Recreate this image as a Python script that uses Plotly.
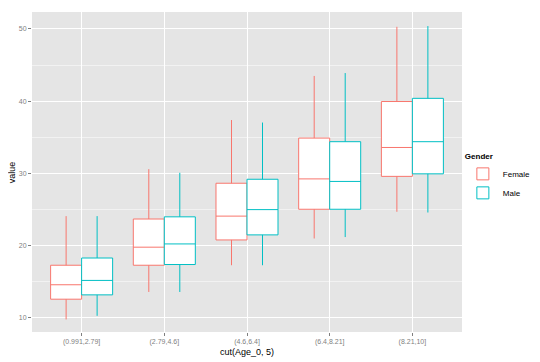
import plotly.graph_objects as go

categories = ["(0.991,2.79]", "(2.79,4.6]", "(4.6,6.4]", "(6.4,8.21]", "(8.21,10]"]

female_low = [9.8, 13.6, 17.3, 21.0, 24.7]
female_q1 = [12.6, 17.3, 20.8, 25.05, 29.6]
female_med = [14.6, 19.8, 24.1, 29.25, 33.6]
female_q3 = [17.3, 23.7, 28.65, 34.9, 39.96]
female_high = [24.1, 30.6, 37.4, 43.5, 50.3]

male_low = [10.3, 13.6, 17.3, 21.2, 24.6]
male_q1 = [13.2, 17.4, 21.5, 25.05, 29.95]
male_med = [15.2, 20.25, 25.0, 28.9, 34.4]
male_q3 = [18.3, 24.0, 29.2, 34.4, 40.4]
male_high = [24.1, 30.1, 37.05, 43.9, 50.4]

font = "Liberation Sans, Arial, sans-serif"

fig = go.Figure()
for name, color, lo, q1, med, q3, hi in [
    ("Female", "#F8766D", female_low, female_q1, female_med, female_q3, female_high),
    ("Male", "#00BFC4", male_low, male_q1, male_med, male_q3, male_high),
]:
    fig.add_trace(go.Box(
        name=name, x=categories, lowerfence=lo, q1=q1, median=med, q3=q3, upperfence=hi,
        line=dict(color=color, width=1), fillcolor="white", whiskerwidth=0,
        offsetgroup=name, boxpoints=False, hoverinfo="skip",
    ))

# page body has an 8px margin, so the figure is sized to fill the rest of the window
fig.update_layout(
    width=532, height=354,
    margin=dict(l=24, r=76, t=4, b=30),
    paper_bgcolor="white", plot_bgcolor="#E5E5E5",
    boxmode="group", boxgap=0.25, boxgroupgap=0,
    font=dict(family=font, size=8, color="black"),
    showlegend=True,
    legend=dict(
        title=dict(text="<b>Gender</b>", font=dict(size=8)),
        x=1.002, xanchor="left", y=0.572, yanchor="top",
        font=dict(size=8), bgcolor="rgba(0,0,0,0)",
        tracegroupgap=0,
    ),
    xaxis=dict(
        automargin=False,
        range=[-0.6, len(categories) - 0.4],
        showgrid=True, gridcolor="white", gridwidth=1.2,
        ticks="outside", ticklen=3, tickcolor="#7F7F7F",
        tickfont=dict(size=7, color="#7F7F7F"), zeroline=False,
        showline=False,
    ),
    yaxis=dict(
        automargin=False,
        range=[8.06, 52.35], tickvals=[10, 20, 30, 40, 50],
        showgrid=True, gridcolor="white", gridwidth=1.2,
        minor=dict(tickvals=[15, 25, 35, 45], showgrid=True, gridcolor="#F2F2F2", gridwidth=0.6, ticks=""),
        ticks="outside", ticklen=3, tickcolor="#7F7F7F",
        tickfont=dict(size=7, color="#7F7F7F"), zeroline=False,
        showline=False,
    ),
    annotations=[
        dict(text="cut(Age_0, 5)", xref="paper", yref="paper", x=0.5, y=-0.064,
             xanchor="center", yanchor="middle", showarrow=False, font=dict(size=9)),
        dict(text="value", xref="paper", yref="paper", x=-0.046, y=0.5,
             xanchor="center", yanchor="middle", textangle=-90, showarrow=False, font=dict(size=9)),
    ],
)

fig.write_html("out.html")
